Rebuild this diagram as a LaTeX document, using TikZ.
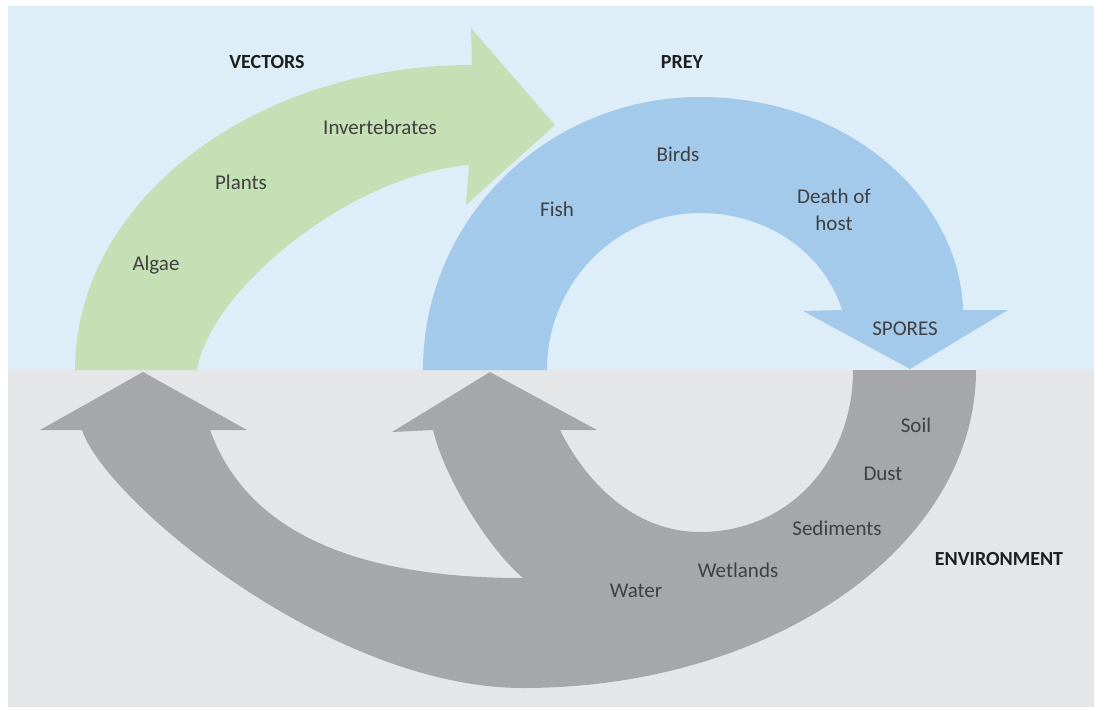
\documentclass[tikz,border=0pt]{standalone}
\usepackage{fontspec}
\setmainfont{Carlito}
\definecolor{skyb}{HTML}{DEEEF9}
\definecolor{groundg}{HTML}{E5E6E8}
\definecolor{arrowgreen}{HTML}{C5E0B4}
\definecolor{arrowblue}{HTML}{A3C9EB}
\definecolor{arrowgray}{HTML}{A6A7AB}
\definecolor{labeltext}{HTML}{404040}
\begin{document}
\begin{tikzpicture}[x=1pt,y=-1pt,
  lbl/.style={text=labeltext, font=\fontsize{21}{27}\selectfont, inner sep=0pt, align=center},
  headlbl/.style={text=black!88, font=\fontsize{20}{24}\selectfont\bfseries, inner sep=0pt}]
\useasboundingbox (0,0) rectangle (1094,707);
\fill[white] (0,0) rectangle (1094,707);
\fill[skyb] (8,6) rectangle (1094,370);
\fill[groundg] (8,370) rectangle (1094,707);

% gray environment arrows
\fill[arrowgray] (976,370)
  .. controls (976,546) and (773,688) .. (523,688)
  .. controls (330,688) and (105,500) .. (82,430)
  -- (40,430) -- (143,372) -- (247,430) -- (210,430)
  .. controls (250,540) and (370,578) .. (523,578)
  .. controls (490,550) and (445,480) .. (433,430)
  -- (392,432) -- (490,372) -- (597,430) -- (560,430)
  .. controls (590,490) and (640,532) .. (700,532)
  .. controls (790,532) and (853,460) .. (853,370)
  -- cycle;

% blue prey arrow
\fill[arrowblue] (423,370)
  .. controls (423,219) and (547,97) .. (700,97)
  .. controls (850,97) and (960,200) .. (963,310)
  -- (1008,310) -- (910,369) -- (803,311) -- (842,310)
  .. controls (825,255) and (770,213) .. (700,213)
  .. controls (616,213) and (547,283) .. (547,370)
  -- cycle;

% green vectors arrow
\fill[arrowgreen] (75,370)
  .. controls (75,201.5) and (253,65) .. (472,65)
  -- (471,28) -- (555,125) -- (466,205) -- (469,165)
  .. controls (350,175) and (210,290) .. (197,370)
  -- cycle;

% headings
\node[headlbl] (vectors) at (267,62) {VECTORS};
\node[headlbl] (prey) at (682,62) {PREY};
\node[headlbl] (environment) at (999,559) {ENVIRONMENT};

% vector labels
\node[lbl] (algae) at (156,265) {Algae};
\node[lbl] (plants) at (241,182) {Plants};
\node[lbl] (invert) at (380,127) {Invertebrates};

% prey labels
\node[lbl] (fish) at (557,209) {Fish};
\node[lbl] (birds) at (678,154) {Birds};
\node[lbl] (death) at (834,210) {Death of\\host};
\node[lbl] (spores) at (905,329) {SPORES};

% environment labels
\node[lbl] (soil) at (916,425) {Soil};
\node[lbl] (dust) at (883,474) {Dust};
\node[lbl] (sediments) at (837,528) {Sediments};
\node[lbl] (wetlands) at (738,570) {Wetlands};
\node[lbl] (water) at (636,591) {Water};
\end{tikzpicture}
\end{document}
